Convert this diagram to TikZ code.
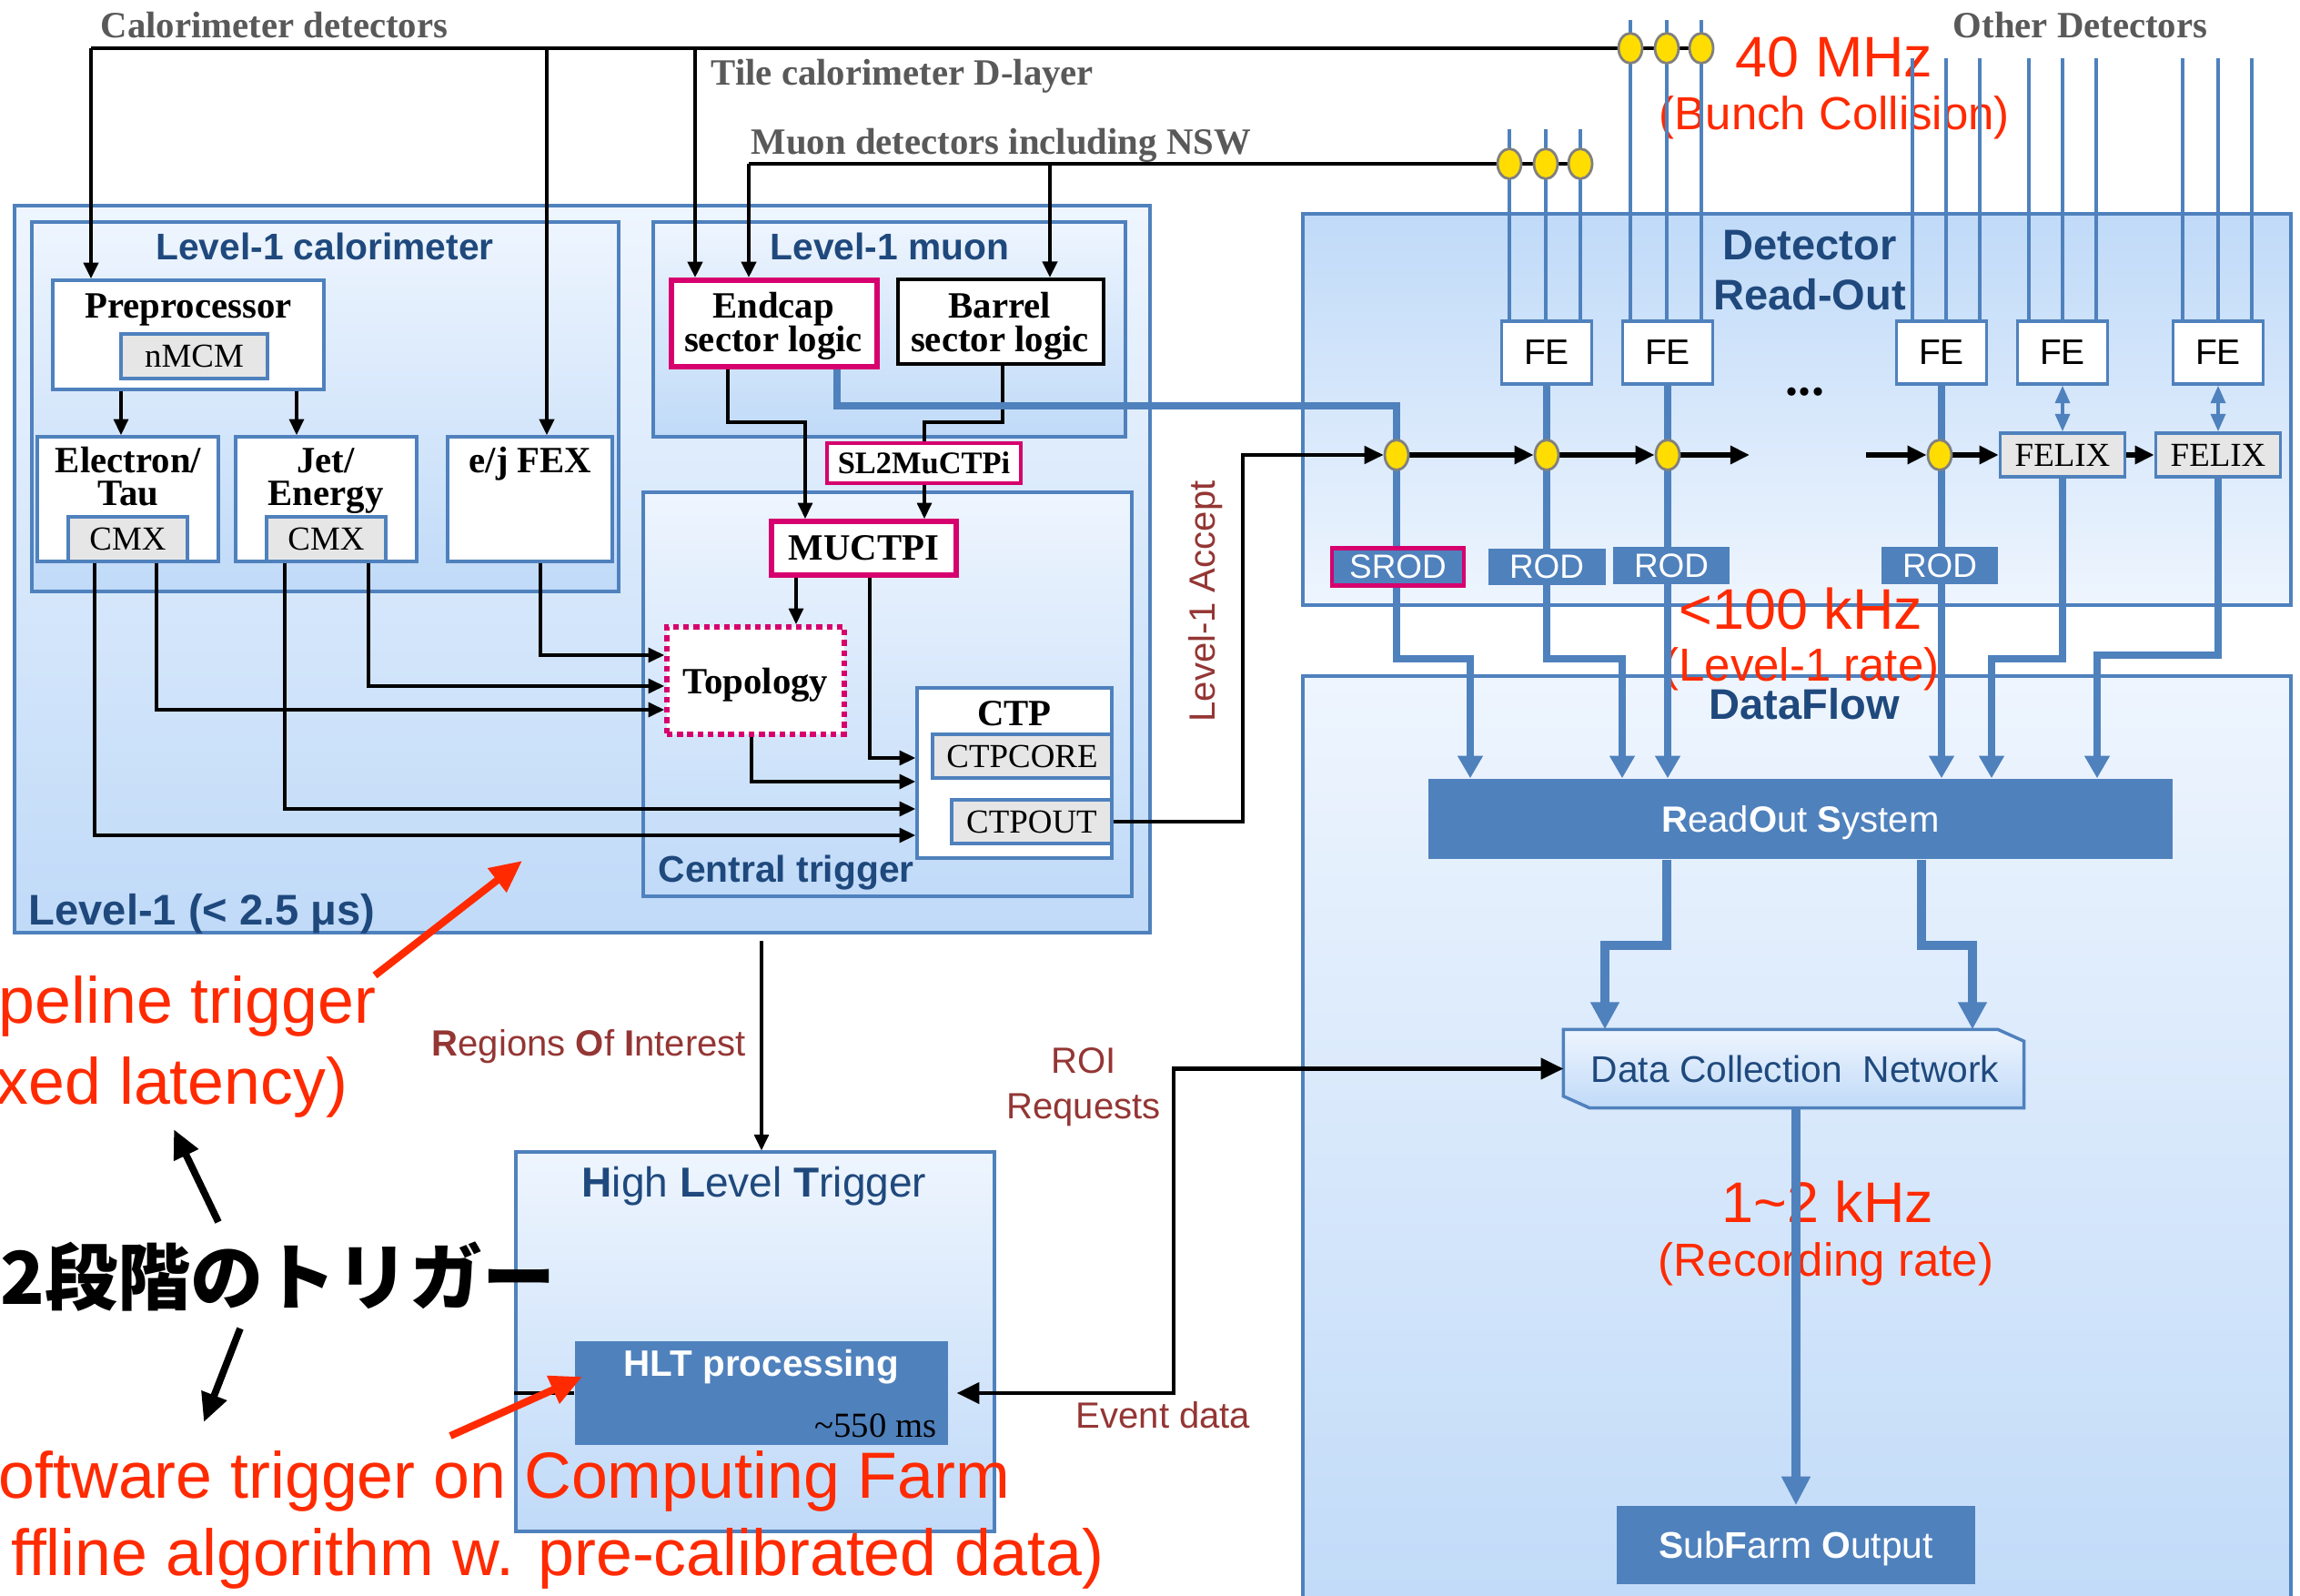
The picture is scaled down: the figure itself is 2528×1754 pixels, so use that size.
\documentclass[tikz,border=0pt]{standalone}
\usepackage{fontspec}
\setmainfont{Liberation Serif}
\setsansfont{Liberation Sans}
\newfontfamily\jpfont{Noto Sans CJK JP}
\usetikzlibrary{arrows.meta,shapes.geometric}
\pgfdeclarelayer{bg}
\pgfdeclarelayer{fg}
\pgfsetlayers{bg,main,fg}
\definecolor{bord}{HTML}{4F81BD}
\definecolor{rodblue}{HTML}{4F81BD}
\definecolor{titleblue}{HTML}{1F497D}
\definecolor{mag}{HTML}{D6006E}
\definecolor{redtxt}{HTML}{FF2A00}
\definecolor{dred}{HTML}{943634}
\definecolor{grayfill}{HTML}{E6E6E6}
\definecolor{graytxt}{HTML}{595959}
\definecolor{ylw}{HTML}{FFDD00}
\definecolor{dotgray}{HTML}{808080}
\definecolor{lt}{HTML}{EEF5FE}
\definecolor{dk}{HTML}{C0DAF8}
\begin{document}
\begin{tikzpicture}[x=0.1mm,y=-0.1mm,
  frame/.style={draw=bord,line width=0.9pt,top color=lt,bottom color=dk,inner sep=0pt},
  rframe/.style={draw=bord,line width=0.9pt,top color=dk,bottom color=lt,inner sep=0pt},
  wbox/.style={draw=bord,line width=1pt,fill=white,inner sep=0pt,text depth=0pt},
  gbox/.style={draw=bord,line width=1pt,fill=grayfill,inner sep=0pt,text depth=0pt,font=\fontsize{10.5}{12}\selectfont},
  magbox/.style={draw=mag,line width=1.6pt,fill=white,inner sep=0pt,text depth=0pt},
  rodbox/.style={fill=rodblue,inner sep=0pt,text depth=0pt,text=white,font=\sffamily\fontsize{10.5}{12}\selectfont},
  ydot/.style={ellipse,draw=dotgray,fill=ylw,line width=0.8pt,minimum width=2.6mm,minimum height=3.3mm,inner sep=0pt},
  lbl/.style={inner sep=0pt},
  sb/.style={lbl,font=\fontsize{11.6}{13}\selectfont\bfseries},
  gt/.style={sb,text=graytxt},
  tt/.style={lbl,text=titleblue,font=\sffamily\bfseries\fontsize{11.6}{13}\selectfont},
  ttl/.style={lbl,text=titleblue,font=\sffamily\bfseries\fontsize{13.4}{15}\selectfont},
  dr/.style={lbl,text=dred,font=\sffamily\fontsize{11.4}{13}\selectfont},
  rbig/.style={lbl,text=redtxt,font=\sffamily\fontsize{17.9}{20}\selectfont},
  rmid/.style={lbl,text=redtxt,font=\sffamily\fontsize{14.5}{16}\selectfont},
  rhuge/.style={lbl,text=redtxt,font=\sffamily\fontsize{20.4}{23}\selectfont},
  blk/.style={draw=black,line width=1pt},
  topln/.style={draw=black,line width=1.3pt},
  arr/.style={-{Triangle[length=5pt,width=4.5pt]}},
  trig/.style={draw=black,line width=1.5pt,-{Triangle[length=6pt,width=5.5pt]}},
  bl/.style={draw=rodblue,line width=2.2pt},
  bldf/.style={draw=rodblue,line width=2.8pt,-{Triangle[length=8.5pt,width=8.5pt]}},
  barr/.style={-{Triangle[length=7pt,width=7.5pt]}},
  thinb/.style={draw=rodblue,line width=0.9pt},
  dbl/.style={draw=rodblue,line width=1.1pt,{Triangle[length=5.5pt,width=4.5pt]}-{Triangle[length=5.5pt,width=4.5pt]}},
  redarr/.style={draw=redtxt,line width=2.3pt,-{Triangle[length=10pt,width=9pt]}},
  bigarr/.style={draw=black,line width=2.2pt,-{Triangle[length=9pt,width=8pt]}}
]
\useasboundingbox (0,0) rectangle (2528,1754);

% ---------- background frames ----------
\begin{pgfonlayer}{bg}
\clip (0,0) rectangle (2528,1754);
\fill[white] (0,0) rectangle (2528,1754);
\node[frame,minimum width=124.8mm,minimum height=79.9mm] (l1) at (640,625.5) {};
\node[frame,minimum width=64.5mm,minimum height=40.6mm] (l1calo) at (357.5,447) {};
\node[frame,minimum width=51.9mm,minimum height=23.6mm] (l1mu) at (977.5,362) {};
\node[frame,minimum width=53.7mm,minimum height=44.4mm] (ctrig) at (975.5,763) {};
\node[rframe,minimum width=108.6mm,minimum height=43mm] (dro) at (1975,450) {};
\node[frame,minimum width=108.6mm,minimum height=105mm] (dfl) at (1975,1268) {};
\node[frame,minimum width=52.6mm,minimum height=41.7mm] (hlt) at (830,1474.5) {};
\end{pgfonlayer}

% ---------- foreground: junction dots and RODs ----------
\begin{pgfonlayer}{fg}
\node[ydot] (c1) at (1792,53) {};
\node[ydot] (c2) at (1832,53) {};
\node[ydot] (c3) at (1870,53) {};
\node[ydot] (m1) at (1659,180) {};
\node[ydot] (m2) at (1699,180) {};
\node[ydot] (m3) at (1737,180) {};
\node[ydot] (t1) at (1535,500) {};
\node[ydot] (t2) at (1700,500) {};
\node[ydot] (t3) at (1833,500) {};
\node[ydot] (t4) at (2132,500) {};
\node[rodbox,draw=mag,line width=1.3pt,minimum width=14.5mm,minimum height=4.1mm] (srod) at (1536.5,623) {SROD};
\node[rodbox,minimum width=12.9mm,minimum height=4mm] (rod1) at (1700,623) {ROD};
\node[rodbox,minimum width=12.8mm,minimum height=4.1mm] (rod2) at (1837,621.5) {ROD};
\node[rodbox,minimum width=12.8mm,minimum height=4.1mm] (rod3) at (2132,621.5) {ROD};
\end{pgfonlayer}

% ---------- Level-1 calorimeter ----------
\node[tt,anchor=base] (l1calot) at (357,286) {Level-1 calorimeter};
\node[wbox,minimum width=29.8mm,minimum height=12mm] (pre) at (207,368) {};
\node[sb,anchor=base] (pret) at (207,350) {Preprocessor};
\node[gbox,minimum width=16.1mm,minimum height=4.9mm] (nmcm) at (213.5,391.5) {nMCM};
\node[wbox,minimum width=19.9mm,minimum height=13.7mm] (et) at (140.5,548.5) {};
\node[sb,anchor=base] (ett1) at (141,520) {Electron/};
\node[sb,anchor=base] (ett2) at (141,556) {Tau};
\node[gbox,minimum width=13.1mm,minimum height=4.9mm] (cmx1) at (140.5,592.5) {CMX};
\node[wbox,minimum width=19.9mm,minimum height=13.7mm] (je) at (358.5,548.5) {};
\node[sb,anchor=base] (jet1) at (358,520) {Jet/};
\node[sb,anchor=base] (jet2) at (358,556) {Energy};
\node[gbox,minimum width=13.1mm,minimum height=4.9mm] (cmx2) at (358.5,592.5) {CMX};
\node[wbox,minimum width=18.1mm,minimum height=13.7mm] (fex) at (582.5,548.5) {};
\node[sb,anchor=base] (fext) at (583,520) {e/j FEX};

% ---------- Level-1 muon ----------
\node[tt,anchor=base west] (l1mut) at (846,286) {Level-1 muon};
\node[magbox,minimum width=22.6mm,minimum height=9.5mm] (ec) at (851,355.5) {};
\node[sb,anchor=base] (ect1) at (850,350) {Endcap};
\node[sb,anchor=base] (ect2) at (850,387) {sector logic};
\node[draw=black,line width=1.1pt,fill=white,inner sep=0pt,minimum width=22.6mm,minimum height=9.3mm] (bar) at (1100,353.5) {};
\node[sb,anchor=base] (bart1) at (1099,350) {Barrel};
\node[sb,anchor=base] (bart2) at (1099,387) {sector logic};
\node[magbox,line width=1.4pt,minimum width=21.3mm,minimum height=4.4mm,font=\fontsize{9.8}{11}\selectfont\bfseries] (sl2) at (1015.5,509) {SL2MuCTPi};

% ---------- Central trigger ----------
\node[magbox,minimum width=20.3mm,minimum height=5.9mm,font=\fontsize{11.6}{13}\selectfont\bfseries] (muctpi) at (949.5,602.5) {MUCTPI};
\node[magbox,dash pattern=on 1.8pt off 1.4pt,minimum width=19.5mm,minimum height=11.8mm,font=\fontsize{11.6}{13}\selectfont\bfseries] (topo) at (830.5,748) {Topology};
\node[wbox,minimum width=21.4mm,minimum height=18.7mm] (ctp) at (1115,849.5) {};
\node[sb,anchor=base] (ctpt) at (1115,797) {CTP};
\node[gbox,minimum width=19.7mm,minimum height=4.8mm] (ctpcore) at (1123.5,831) {CTPCORE};
\node[gbox,minimum width=17.6mm,minimum height=4.8mm] (ctpout) at (1134,903) {CTPOUT};
\node[tt,anchor=base west] (ctrigt) at (723,970) {Central trigger};
\node[ttl,anchor=base west] (l1t) at (31,1016) {Level-1 (< 2.5 μs)};

% ---------- top labels ----------
\node[gt,anchor=base west] (calodet) at (110,42) {Calorimeter detectors};
\node[gt,anchor=base west] (tiled) at (781,94) {Tile calorimeter D-layer};
\node[gt,anchor=base west] (mudet) at (825,170) {Muon detectors including NSW};
\node[gt,anchor=base west] (othdet) at (2146,42) {Other Detectors};

% ---------- Detector Read-Out ----------
\node[ttl,anchor=base] (drot1) at (1989,286) {Detector};
\node[ttl,anchor=base] (drot2) at (1989,341) {Read-Out};
\node[wbox,minimum width=9.9mm,minimum height=6.9mm,font=\sffamily\fontsize{11.1}{12}\selectfont] (fe1) at (1700,387.5) {FE};
\node[wbox,minimum width=9.9mm,minimum height=6.9mm,font=\sffamily\fontsize{11.1}{12}\selectfont] (fe2) at (1833,387.5) {FE};
\node[wbox,minimum width=9.9mm,minimum height=6.9mm,font=\sffamily\fontsize{11.1}{12}\selectfont] (fe3) at (2134,387.5) {FE};
\node[wbox,minimum width=9.9mm,minimum height=6.9mm,font=\sffamily\fontsize{11.1}{12}\selectfont] (fe4) at (2267,387.5) {FE};
\node[wbox,minimum width=9.9mm,minimum height=6.9mm,font=\sffamily\fontsize{11.1}{12}\selectfont] (fe5) at (2438,387.5) {FE};
\node[gbox,minimum width=13.7mm,minimum height=4.8mm] (felix1) at (2267,500) {FELIX};
\node[gbox,minimum width=13.7mm,minimum height=4.8mm] (felix2) at (2438,500) {FELIX};
\node[lbl,font=\bfseries\fontsize{16}{16}\selectfont,anchor=base] (ddd) at (1984,435) {...};

% ---------- DataFlow ----------
\node[ttl,anchor=base] (dflt) at (1983,791) {DataFlow};
\node[rodbox,minimum width=81.8mm,minimum height=8.8mm,font=\sffamily\fontsize{11.4}{13}\selectfont] (ros) at (1979,900) {\textbf{R}ead\textbf{O}ut \textbf{S}ystem};
\node[lbl,minimum width=50.5mm,minimum height=8.5mm] (dcn) at (1971.5,1174.5) {};
\path[draw=bord,line width=1pt,top color=lt,bottom color=dk] (dcn.north west) -- ([xshift=-2.9mm]dcn.north east) -- ([yshift=-1.3mm]dcn.north east) -- (dcn.south east) -- ([xshift=2.9mm]dcn.south west) -- ([yshift=1.3mm]dcn.south west) -- cycle;
\node[lbl,anchor=base west,text=titleblue,font=\sffamily\fontsize{11.6}{13}\selectfont] (dcnt) at (1748,1189) {Data Collection\ \ Network};
\node[rodbox,minimum width=39.4mm,minimum height=8.6mm,font=\sffamily\fontsize{11.6}{13}\selectfont] (sfo) at (1974,1698) {\textbf{S}ub\textbf{F}arm \textbf{O}utput};

% ---------- HLT ----------
\node[lbl,anchor=base,text=titleblue,font=\sffamily\fontsize{13.1}{15}\selectfont] (hltt) at (829,1315) {\textbf{H}igh \textbf{L}evel \textbf{T}rigger};
\node[fill=rodblue,inner sep=0pt,minimum width=41mm,minimum height=11.4mm] (hltp) at (837,1531) {};
\node[lbl,anchor=base,text=white,font=\sffamily\bfseries\fontsize{11.5}{13}\selectfont] (hltpt) at (837,1512) {HLT processing};
\node[lbl,anchor=base east,font=\fontsize{11}{13}\selectfont] (hltms) at (1030,1579) {\textasciitilde 550 ms};

% ---------- dark red labels ----------
\node[dr,anchor=base west] (roil) at (474,1160) {\textbf{R}egions \textbf{O}f \textbf{I}nterest};
\node[dr,anchor=base] (roir1) at (1191,1179) {ROI};
\node[dr,anchor=base] (roir2) at (1191,1229) {Requests};
\node[dr,anchor=base west] (evd) at (1182,1569) {Event data};
\node[dr,rotate=90] (l1acc) at (1325,661) {Level-1 Accept};

% ---------- red rate labels ----------
\node[rbig,anchor=base west] (r40) at (1907,85) {40 MHz};
\node[rmid,anchor=base west] (rbunch) at (1823,143) {(Bunch Collision)};
\node[rbig,anchor=base west] (r100) at (1845,692) {<100 kHz};
\node[rmid,anchor=base] (rl1) at (1980,748) {(Level-1 rate)};
\node[rbig,anchor=base] (r12) at (2009,1343) {1\textasciitilde 2 kHz};
\node[rmid,anchor=base] (rrec) at (2007,1402) {(Recording rate)};

% ---------- detector lines ----------
\foreach \xx in {1659,1699,1737} \draw[thinb] (\xx,142) -- (\xx,353);
\foreach \xx in {1792,1832,1870} \draw[thinb] (\xx,22) -- (\xx,353);
\foreach \xx in {2102,2139,2176,2230,2267,2304,2399,2438,2475} \draw[thinb] (\xx,64) -- (\xx,353);

% ---------- calorimeter / muon inputs ----------
\coordinate (calL) at (100,53);
\coordinate (calF) at (601,53);
\coordinate (calT) at (764,53);
\draw[topln] (c1) -- (calL);
\draw[topln] (c1) -- (c2) (c2) -- (c3);
\draw[topln,arr] (calL) -- (calL |- pre.north);
\draw[topln,arr] (calF) -- (calF |- fex.north);
\draw[topln,arr] (calT) -- (calT |- ec.north);
\coordinate (muL) at (823,180);
\coordinate (muB) at (1154,180);
\draw[topln] (m1) -- (muL);
\draw[topln] (m1) -- (m2) (m2) -- (m3);
\draw[topln,arr] (muL) -- (muL |- ec.north);
\draw[topln,arr] (muB) -- (muB |- bar.north);

% ---------- L1 internal ----------
\coordinate (p1) at (133,440);
\coordinate (p2) at (326,440);
\draw[blk,arr] (p1 |- pre.south) -- (p1 |- et.north);
\draw[blk,arr] (p2 |- pre.south) -- (p2 |- je.north);
\coordinate (e1) at (104,918);
\coordinate (e2) at (313,889);
\coordinate (e3) at (172,780);
\coordinate (e4) at (405,754);
\coordinate (e5) at (594,720);
\draw[blk,arr] (e1 |- cmx1.south) -- (e1) -- (e1 -| ctp.west);
\draw[blk,arr] (e2 |- cmx2.south) -- (e2) -- (e2 -| ctp.west);
\draw[blk,arr] (e3 |- cmx1.south) -- (e3) -- (e3 -| topo.west);
\draw[blk,arr] (e4 |- cmx2.south) -- (e4) -- (e4 -| topo.west);
\draw[blk,arr] (e5 |- fex.south) -- (e5) -- (e5 -| topo.west);
\coordinate (e6) at (875,650);
\coordinate (e7) at (956,833);
\coordinate (e8) at (826,859);
\draw[blk,arr] (e6 |- muctpi.south) -- (e6 |- topo.north);
\draw[blk,arr] (e7 |- muctpi.south) -- (e7) -- (e7 -| ctp.west);
\draw[blk,arr] (e8 |- topo.south) -- (e8) -- (e8 -| ctp.west);
\coordinate (e9) at (800,464);
\coordinate (e10) at (885,464);
\draw[blk,arr] (e9 |- ec.south) -- (e9) -- (e10) -- (e10 |- muctpi.north);
\coordinate (e11) at (1102,464);
\coordinate (e12) at (1016,464);
\draw[blk] (e11 |- bar.south) -- (e11) -- (e12) -- (e12 |- sl2.north);
\draw[blk,arr] (e12 |- sl2.south) -- (e12 |- muctpi.north);

% ---------- endcap to SROD ----------
\coordinate (ecb) at (920,446);
\draw[bl] (ecb |- ec.south) -- (ecb) -| (t1.center);

% ---------- Level-1 accept chain ----------
\coordinate (accC) at (1366,500);
\draw[draw=black,line width=1.2pt,-{Triangle[length=6pt,width=5.5pt]}] (ctpout.east) -| (accC) -- (t1);
\draw[trig] (t1) -- (t2);
\draw[trig] (t2) -- (t3);
\coordinate (dA) at (1923,500);
\coordinate (dB) at (2051,500);
\draw[trig] (t3) -- (dA);
\draw[trig] (dB) -- (t4);
\draw[trig] (t4) -- (felix1);
\draw[trig] (felix1) -- (felix2);

% ---------- read-out to ROS ----------
\coordinate (k1) at (1616,724);
\coordinate (k2) at (1783,724);
\coordinate (k5) at (2189,724);
\coordinate (k6) at (2305,720);
\draw[bl,barr] (t1.center) |- (k1) -- (k1 |- ros.north);
\draw[bl,barr] (fe1.south) |- (k2) -- (k2 |- ros.north);
\draw[bl,barr] (fe2.south) -- (fe2.south |- ros.north);
\draw[bl,barr] (fe3.south) -- (fe3.south |- ros.north);
\draw[bl,barr] (felix1.south) |- (k5) -- (k5 |- ros.north);
\draw[bl,barr] (felix2.south) |- (k6) -- (k6 |- ros.north);
\draw[dbl] (fe4.south) -- (felix1.north);
\draw[dbl] (fe5.south) -- (felix2.north);

% ---------- DataFlow internal ----------
\coordinate (qa) at (1832,1039);
\coordinate (qb) at (2112,1039);
\coordinate (q1) at (1764,1039);
\coordinate (q2) at (2168,1039);
\draw[bldf] (qa |- ros.south) -- (qa) -- (q1) -- (q1 |- dcn.north);
\draw[bldf] (qb |- ros.south) -- (qb) -- (q2) -- (q2 |- dcn.north);
\draw[draw=rodblue,line width=2.6pt,-{Triangle[length=9pt,width=8.5pt]}] (sfo.north |- dcn.south) -- (sfo.north);

% ---------- L1 -> HLT, ROI / event data ----------
\coordinate (roiS) at (837,1034);
\draw[blk,arr] (roiS) -- (roiS |- hlt.north);
\coordinate (ev1) at (1290,1531);
\coordinate (ev2) at (1290,1174.5);
\draw[draw=black,line width=1.2pt,{Triangle[length=7pt,width=6.5pt]}-{Triangle[length=7pt,width=6.5pt]}] ([xshift=0.9mm]hltp.east) -- (ev1) -- (ev2) -- (dcn.west);
\draw[draw=black,line width=1.2pt] (hlt.west |- hltp.west) -- (hltp.west);

% ---------- annotations ----------
\begin{scope}
\clip (0,0) rectangle (2528,1754);
\node[rhuge,anchor=base east] (rpipe) at (414,1124) {peline trigger};
\node[rhuge,anchor=base east] (rfix) at (383,1213) {xed latency)};
\node[rhuge,anchor=base east] (rsoft) at (1111,1646) {oftware trigger on Computing Farm};
\node[rhuge,anchor=base east] (roff) at (1214,1731) {ffline algorithm w. pre-calibrated data)};
\node[lbl,anchor=base east,font=\jpfont\bfseries\fontsize{22.8}{25}\selectfont] (jp) at (611,1433) {2段階のトリガー};
\end{scope}
\coordinate (ra1) at (412,1072);
\coordinate (ra2) at (574,946);
\coordinate (ra3) at (495,1578);
\coordinate (ra4) at (640,1513);
\draw[redarr] (ra1) -- (ra2);
\draw[redarr] (ra3) -- (ra4);
\coordinate (ba1) at (240,1343);
\coordinate (ba2) at (191,1241);
\coordinate (ba3) at (264,1460);
\coordinate (ba4) at (224,1563);
\draw[bigarr] (ba1) -- (ba2);
\draw[bigarr] (ba3) -- (ba4);
\end{tikzpicture}
\end{document}
